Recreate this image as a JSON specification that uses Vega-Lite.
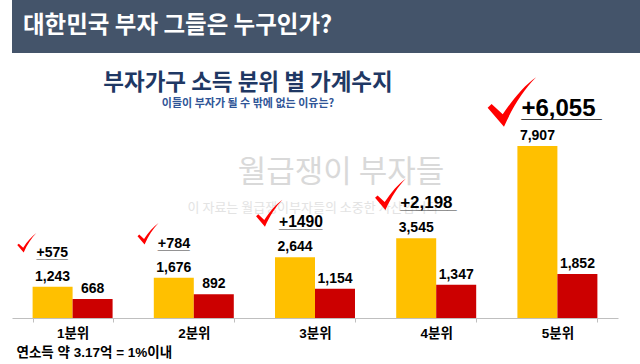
{
  "$schema": "https://vega.github.io/schema/vega-lite/v6.json",
  "padding": 0,
  "background": "white",
  "spacing": 0,
  "config": {
    "view": {"stroke": null},
    "font": "Liberation Sans, Noto Sans CJK KR",
    "concat": {"spacing": 0}
  },
  "datasets": {
    "bars": [
      {"cat": "1분위", "series": "소득", "value": 1243},
      {"cat": "1분위", "series": "지출", "value": 668},
      {"cat": "2분위", "series": "소득", "value": 1676},
      {"cat": "2분위", "series": "지출", "value": 892},
      {"cat": "3분위", "series": "소득", "value": 2644},
      {"cat": "3분위", "series": "지출", "value": 1154},
      {"cat": "4분위", "series": "소득", "value": 3545},
      {"cat": "4분위", "series": "지출", "value": 1347},
      {"cat": "5분위", "series": "소득", "value": 7907},
      {"cat": "5분위", "series": "지출", "value": 1852}
    ],
    "notes": [
      {"cat": "1분위", "income": 1243, "diff": 575, "label": "+575"},
      {"cat": "2분위", "income": 1676, "diff": 784, "label": "+784"},
      {"cat": "3분위", "income": 2644, "diff": 1490, "label": "+1490"},
      {"cat": "4분위", "income": 3545, "diff": 2198, "label": "+2,198"},
      {"cat": "5분위", "income": 7907, "diff": 6055, "label": "+6,055"}
    ]
  },
  "vconcat": [
    {
      "width": 640,
      "height": 53,
      "view": {"fill": "#44546A", "stroke": null},
      "data": {"values": [{"t": "대한민국 부자 그들은 누구인가?"}]},
      "mark": {"type": "text", "align": "left", "baseline": "middle", "x": 11, "y": 26, "fontSize": 23.5, "fontWeight": "bold", "color": "white", "font": "Noto Sans CJK KR"},
      "encoding": {"text": {"field": "t"}}
    },
    {
      "width": 606,
      "height": 265,
      "title": {
        "text": "부자가구 소득 분위 별 가계수지",
        "subtitle": "이들이 부자가 될 수 밖에 없는 이유는?",
        "anchor": "middle",
        "frame": "group",
        "orient": "top",
        "offset": -56,
        "dx": -67,
        "font": "Noto Sans CJK KR",
        "fontSize": 22.5,
        "fontWeight": "bold",
        "color": "#1F3864",
        "subtitleFont": "Noto Sans CJK KR",
        "subtitleFontSize": 11,
        "subtitleFontWeight": "bold",
        "subtitleColor": "#2F5597",
        "subtitlePadding": 4
      },
      "resolve": {"scale": {"size": "independent"}},
      "encoding": {
        "x": {
          "field": "cat",
          "type": "nominal",
          "sort": null,
          "scale": {"domain": ["1분위", "2분위", "3분위", "4분위", "5분위"], "paddingInner": 0.34, "paddingOuter": 0.17},
          "axis": {
            "domainColor": "#BFBFBF",
            "tickColor": "#BFBFBF",
            "tickSize": 4,
            "tickBand": "extent",
            "labelAngle": 0,
            "labelFontSize": 13.5,
            "labelFontWeight": "bold",
            "labelColor": "black",
            "labelPadding": 4,
            "title": "연소득 약 3.17억 = 1%이내",
            "titleAnchor": "start",
            "titleAlign": "left",
            "titleX": 4,
            "titleFontSize": 13.5,
            "titleFontWeight": "bold",
            "titleColor": "black",
            "titlePadding": 6
          }
        }
      },
      "layer": [
        {
          "data": {"values": [{"t": "월급쟁이 부자들"}]},
          "mark": {"type": "text", "align": "center", "baseline": "middle", "dx": 26, "fontSize": 31, "color": "#D9D9D9", "font": "Noto Sans CJK KR"},
          "encoding": {
            "x": {"datum": "3분위"},
            "y": {"datum": 6640},
            "text": {"field": "t"}
          }
        },
        {
          "data": {"values": [{"t": "이 자료는 월급쟁이부자들의 소중한 자산입니다"}]},
          "mark": {"type": "text", "align": "center", "baseline": "middle", "dx": -2, "fontSize": 13, "color": "#E3E3E3", "font": "Noto Sans CJK KR"},
          "encoding": {
            "x": {"datum": "3분위"},
            "y": {"datum": 4980},
            "text": {"field": "t"}
          }
        },
        {
          "data": {"name": "bars"},
          "mark": {"type": "bar"},
          "encoding": {
            "xOffset": {"field": "series", "type": "nominal"},
            "y": {
              "field": "value",
              "type": "quantitative",
              "scale": {"domain": [-230, 12306], "nice": false, "zero": false},
              "axis": {"domain": false, "ticks": false, "labels": false, "grid": false, "title": null, "minExtent": 12, "maxExtent": 12}
            },
            "y2": {"datum": -230},
            "color": {
              "field": "series",
              "type": "nominal",
              "scale": {"domain": ["소득", "지출"], "range": ["#FFC000", "#CC0000"]},
              "legend": null
            }
          }
        },
        {
          "data": {"name": "bars"},
          "mark": {"type": "text", "baseline": "alphabetic", "dy": -6, "fontSize": 14, "fontWeight": "bold", "color": "black"},
          "encoding": {
            "xOffset": {"field": "series", "type": "nominal"},
            "y": {"field": "value", "type": "quantitative"},
            "text": {"field": "value", "type": "quantitative", "format": ","}
          }
        },
        {
          "data": {"name": "notes"},
          "mark": {"type": "point", "shape": "M -0.96 0.23 L -0.8 0.08 L -0.35 0.5 C 0.05 -0.1 0.5 -0.65 1 -1 C 0.5 -0.5 0.05 0.2 -0.3 1 Z", "filled": true, "color": "#FF0000", "opacity": 1, "xOffset": -46, "yOffset": -44},
          "encoding": {
            "y": {"field": "income", "type": "quantitative"},
            "size": {"field": "diff", "type": "quantitative", "scale": {"domain": [575, 6055], "range": [380, 2450]}, "legend": null}
          }
        },
        {
          "data": {"name": "notes"},
          "transform": [{"calculate": "replace(datum.label, regexp('.', 'g'), '_')", "as": "u"}],
          "mark": {"type": "text", "align": "left", "baseline": "alphabetic", "dx": -36, "dy": -29, "fontWeight": "bold", "color": "#404040"},
          "encoding": {
            "y": {"field": "income", "type": "quantitative"},
            "text": {"field": "u"},
            "size": {"field": "diff", "type": "quantitative", "scale": {"domain": [575, 6055], "range": [14, 24]}, "legend": null}
          }
        },
        {
          "data": {"name": "notes"},
          "mark": {"type": "text", "align": "left", "baseline": "alphabetic", "dx": -36, "dy": -30, "fontWeight": "bold", "color": "black"},
          "encoding": {
            "y": {"field": "income", "type": "quantitative"},
            "text": {"field": "label"},
            "size": {"field": "diff", "type": "quantitative", "scale": {"domain": [575, 6055], "range": [14, 24]}, "legend": null}
          }
        }
      ]
    }
  ]
}
